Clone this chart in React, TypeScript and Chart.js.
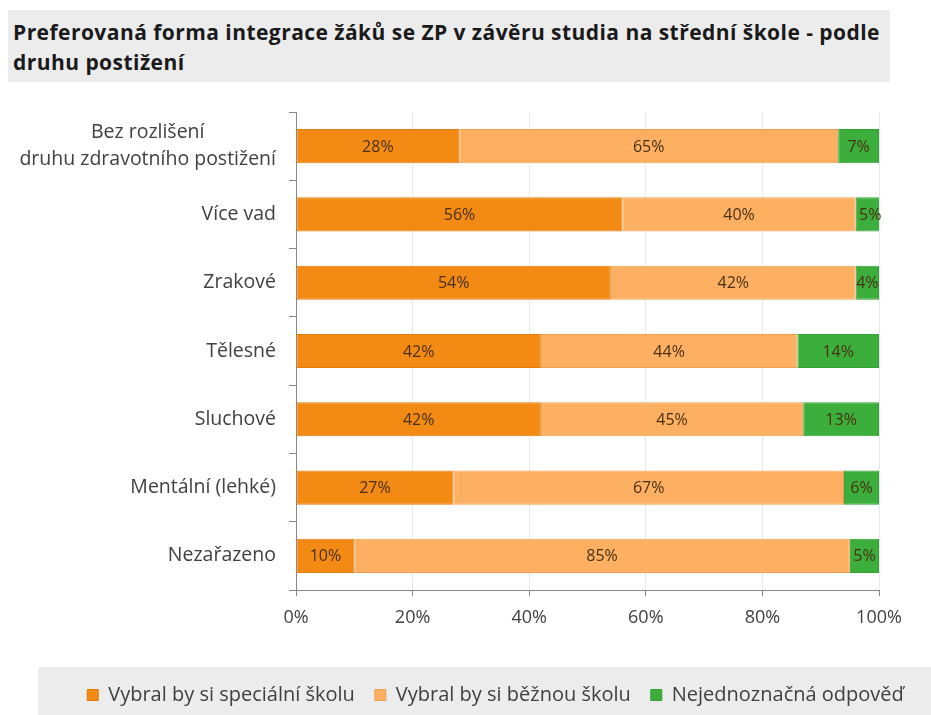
import React, { useEffect, useRef } from "react";
import { Chart, registerables } from "chart.js";

Chart.register(...registerables);

const titleLines = [
  "Preferovaná forma integrace žáků se ZP v závěru studia na střední škole - podle",
  "druhu postižení",
];

const categories: (string | string[])[] = [
  ["Bez rozlišení", "druhu zdravotního postižení"],
  "Více vad",
  "Zrakové",
  "Tělesné",
  "Sluchové",
  "Mentální (lehké)",
  "Nezařazeno",
];

const seriesNames = [
  "Vybral by si speciální školu",
  "Vybral by si běžnou školu",
  "Nejednoznačná odpověď",
];

const specialSchool = [28, 56, 54, 42, 42, 27, 10];
const regularSchool = [65, 40, 42, 44, 45, 67, 85];
const ambiguous = [7, 5, 4, 14, 13, 6, 5];

const xTicks = [0, 20, 40, 60, 80, 100];

const colors = ["#f28a14", "#fdb062", "#3cae3c"];
const borders = ["#e07c0c", "#eda050", "#34a034"];

const FONT = '"Open Sans", "DejaVu Sans", sans-serif';

const segLabels = {
  id: "segLabels",
  afterDatasetsDraw(chart: any) {
    const ctx = chart.ctx;
    ctx.save();
    ctx.font = `16px ${FONT}`;
    ctx.fillStyle = "#4a3012";
    ctx.textAlign = "center";
    ctx.textBaseline = "middle";
    chart.data.datasets.forEach((ds: any, di: number) => {
      const meta = chart.getDatasetMeta(di);
      meta.data.forEach((bar: any, i: number) => {
        const p = bar.getProps(["x", "base", "y"], true);
        ctx.fillText(ds.data[i] + "%", (p.x + p.base) / 2, p.y + 1);
      });
    });
    ctx.restore();
  },
};

const yLabels = {
  id: "yLabels",
  afterDraw(chart: any) {
    const ctx = chart.ctx;
    const scale = chart.scales.y;
    ctx.save();
    ctx.font = `19.5px ${FONT}`;
    ctx.fillStyle = "#404040";
    ctx.textAlign = "center";
    ctx.textBaseline = "middle";
    const right = chart.chartArea.left - 20;
    const lineH = 27;
    (chart.data.labels as any[]).forEach((lab, i) => {
      const lines = Array.isArray(lab) ? lab : [lab];
      const maxW = Math.max(...lines.map((l: string) => ctx.measureText(l).width));
      const cx = right - maxW / 2;
      const cy = scale.getPixelForTick(i);
      lines.forEach((l: string, k: number) => {
        ctx.fillText(l, cx, cy + (k - (lines.length - 1) / 2) * lineH);
      });
    });
    ctx.restore();
  },
};

const legendBg = {
  id: "legendBg",
  beforeDraw(chart: any) {
    const ctx = chart.ctx;
    const lg = chart.legend;
    if (!lg) return;
    ctx.save();
    ctx.fillStyle = "#ececec";
    ctx.fillRect(38, lg.top + 2, chart.width - 38, chart.height - lg.top - 2);
    ctx.restore();
  },
};

export default function App() {
  const ref = useRef<HTMLCanvasElement | null>(null);

  useEffect(() => {
    if (!ref.current) return;
    const data = [specialSchool, regularSchool, ambiguous];
    const chart = new Chart(ref.current, {
      type: "bar",
      data: {
        labels: categories as any,
        datasets: seriesNames.map((name, i) => ({
          label: name,
          data: data[i],
          backgroundColor: colors[i],
          borderColor: borders[i],
          borderWidth: 1,
          borderSkipped: false,
          categoryPercentage: 1,
          barPercentage: 0.5,
        })),
      },
      options: {
        indexAxis: "y",
        animation: false,
        responsive: false,
        maintainAspectRatio: false,
        layout: { padding: { left: 60, right: 0, top: 112, bottom: 0 } },
        plugins: {
          title: { display: false },
          tooltip: { enabled: false },
          legend: {
            position: "bottom",
            labels: {
              boxWidth: 11,
              boxHeight: 11,
              padding: 20,
              color: "#404040",
              font: { size: 20, family: FONT },
            },
          },
        },
        scales: {
          x: {
            stacked: true,
            min: 0,
            max: 100,
            afterBuildTicks(scale: any) {
              scale.ticks = xTicks.map((v) => ({ value: v }));
            },
            afterFit(scale: any) {
              scale.height = 75;
            },
            grid: {
              color: "#e4e9f0",
              tickColor: "#888888",
              tickLength: 6,
            },
            border: { color: "#888888", width: 1 },
            ticks: {
              padding: 11,
              color: "#404040",
              font: { size: 18, family: FONT },
              callback: (v: any) => v + "%",
            },
          },
          y: {
            stacked: true,
            afterFit(scale: any) {
              scale.width = 236;
            },
            grid: {
              drawOnChartArea: false,
              tickColor: "#888888",
              tickLength: 7,
              offset: true,
            },
            border: { color: "#888888", width: 1 },
            ticks: { display: false },
          },
          y2: {
            position: "right",
            display: true,
            afterFit(scale: any) {
              scale.width = 52;
            },
            grid: { display: false },
            border: { display: false },
            ticks: { display: false },
          },
        },
      },
      plugins: [segLabels, yLabels, legendBg],
    });
    return () => chart.destroy();
  }, []);

  return (
    <div style={{ position: "absolute", left: 0, top: 0, width: 931, height: 715, background: "#fff" }}>
      <div
        style={{
          position: "absolute",
          left: 8,
          top: 10,
          width: 882,
          height: 72,
          background: "#ececec",
          boxSizing: "border-box",
          padding: "7px 0 0 5px",
          fontFamily: FONT,
          fontWeight: 700,
          fontSize: 21,
          lineHeight: "30px",
          color: "#1a1a1a",
          letterSpacing: "0.45px",
        }}
      >
        {titleLines.map((l, i) => (
          <div key={i} style={{ whiteSpace: "nowrap" }}>{l}</div>
        ))}
      </div>
      <canvas ref={ref} width={931} height={715} style={{ position: "absolute", left: 0, top: 0, display: "block" }} />
    </div>
  );
}
